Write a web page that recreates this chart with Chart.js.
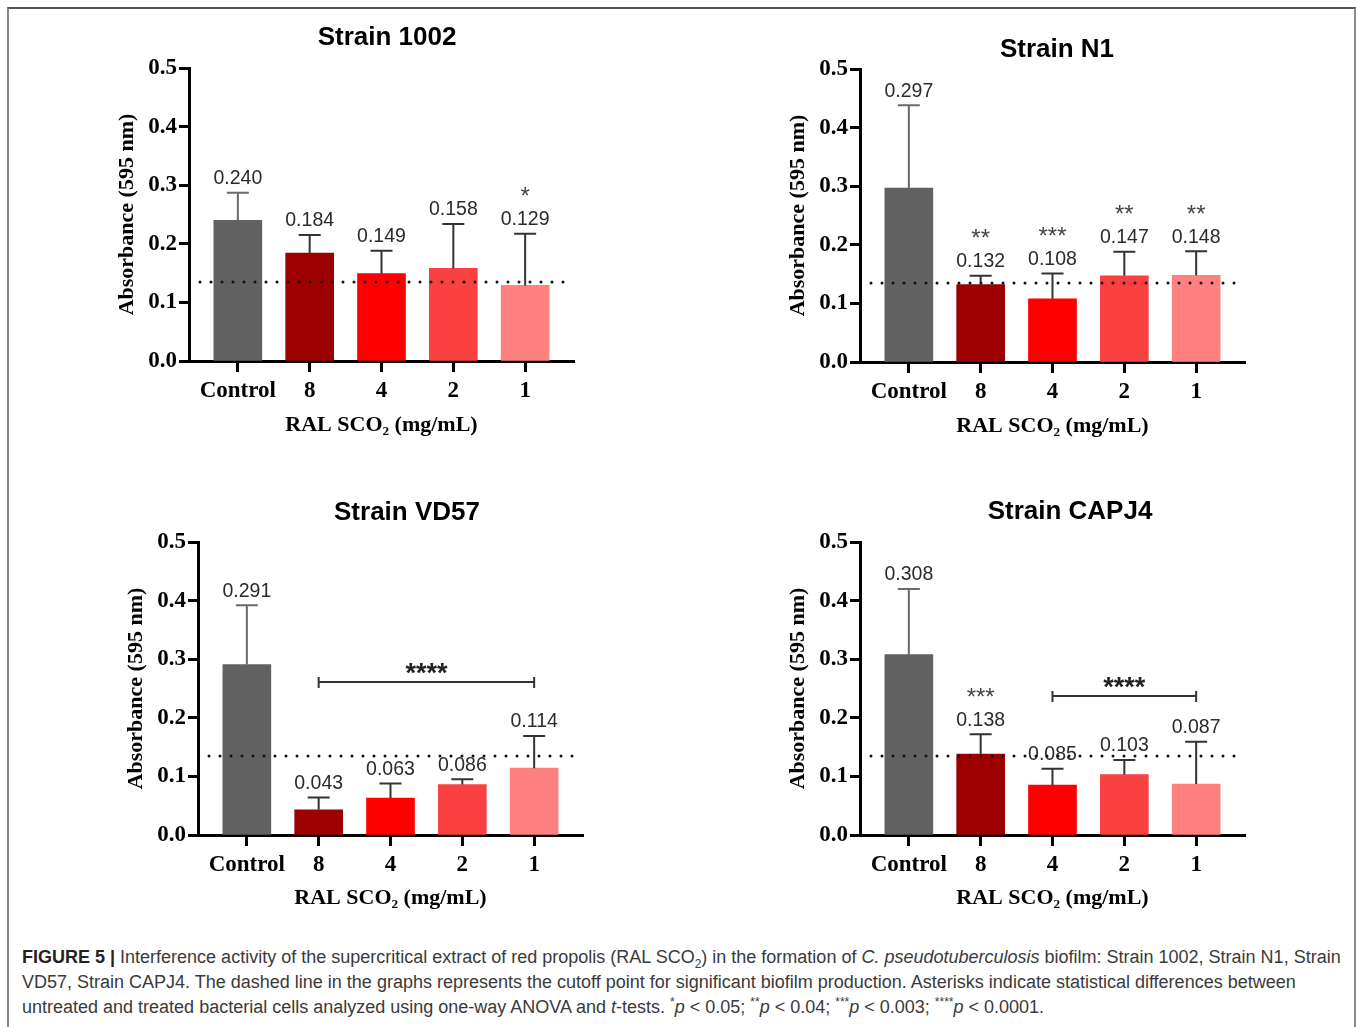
<!DOCTYPE html>
<html>
<head>
<meta charset="utf-8">
<script src="https://cdn.jsdelivr.net/npm/chart.js@4.4.1/dist/chart.umd.min.js"></script>
<style>
  html, body { margin: 0; padding: 0; background: #fff; }
  body { width: 1357px; height: 1027px; position: relative; overflow: hidden; }
  #frame {
    position: absolute; left: 7px; top: 7px; width: 1345px; height: 1040px;
    border-top: 2px solid #555; border-left: 2px solid #8a8a8a; border-right: 2px solid #8a8a8a;
  }
  .panel { position: absolute; }
  #caption {
    position: absolute; left: 22px; top: 945px;
    font-family: "Liberation Sans", Arial, sans-serif; font-size: 18px; line-height: 25px;
    color: #3a3a3a; white-space: nowrap;
  }
  #caption b { color: #222; }
  #caption sub, #caption sup { font-size: 12px; line-height: 0; }
</style>
</head>
<body>
<div id="frame"></div>
<canvas id="c1002" class="panel" width="505" height="433" style="left:89px; top:8px;"></canvas>
<canvas id="cN1" class="panel" width="505" height="433" style="left:760px; top:9px;"></canvas>
<canvas id="cVD57" class="panel" width="505" height="433" style="left:98px; top:482px;"></canvas>
<canvas id="cCAPJ4" class="panel" width="505" height="433" style="left:760px; top:482px;"></canvas>

<div id="caption"><b>FIGURE 5 |</b> Interference activity of the supercritical extract of red propolis (RAL SCO<sub>2</sub>) in the formation of <i>C. pseudotuberculosis</i> biofilm: Strain 1002, Strain N1, Strain<br>VD57, Strain CAPJ4. The dashed line in the graphs represents the cutoff point for significant biofilm production. Asterisks indicate statistical differences between<br>untreated and treated bacterial cells analyzed using one-way ANOVA and <i>t</i>-tests. <sup>*</sup><i>p</i> &lt; 0.05; <sup>**</sup><i>p</i> &lt; 0.04; <sup>***</sup><i>p</i> &lt; 0.003; <sup>****</sup><i>p</i> &lt; 0.0001.</div>

<script>
// ---- data ----
const categories = ["Control", "8", "4", "2", "1"];
const barColors = ["#616161", "#9c0000", "#ff0000", "#f94141", "#ff8080"];
const yTicks = [0, 0.1, 0.2, 0.3, 0.4, 0.5];
const cutoff = 0.135;

const means1002 = [0.240, 0.184, 0.149, 0.158, 0.129];
const sd1002 = [0.047, 0.031, 0.039, 0.076, 0.088];
const stars1002 = ["", "", "", "", "*"];

const meansN1 = [0.297, 0.132, 0.108, 0.147, 0.148];
const sdN1 = [0.141, 0.015, 0.043, 0.041, 0.041];
const starsN1 = ["", "**", "***", "**", "**"];

const meansVD57 = [0.291, 0.043, 0.063, 0.086, 0.114];
const sdVD57 = [0.101, 0.021, 0.025, 0.009, 0.055];
const starsVD57 = ["", "", "", "", ""];
const bracketVD57 = { from: 1, to: 4, y: 0.261, text: "****" };

const meansCAPJ4 = [0.308, 0.138, 0.085, 0.103, 0.087];
const sdCAPJ4 = [0.112, 0.034, 0.028, 0.025, 0.072];
const starsCAPJ4 = ["", "***", "", "", ""];
const bracketCAPJ4 = { from: 2, to: 4, y: 0.237, text: "****" };

// ---- panels (layout only) ----
const panels = [
  { id: "c1002", title: "Strain 1002", means: means1002, sd: sd1002, stars: stars1002, bracket: null, titleX: 298, titleY: 30, xTitlePad: 2 },
  { id: "cN1", title: "Strain N1", means: meansN1, sd: sdN1, stars: starsN1, bracket: null, titleX: 297, titleY: 41, xTitlePad: 2 },
  { id: "cVD57", title: "Strain VD57", means: meansVD57, sd: sdVD57, stars: starsVD57, bracket: bracketVD57, titleX: 309, titleY: 31, xTitlePad: 3 },
  { id: "cCAPJ4", title: "Strain CAPJ4", means: meansCAPJ4, sd: sdCAPJ4, stars: starsCAPJ4, bracket: bracketCAPJ4, titleX: 310, titleY: 30, xTitlePad: 3 }
];

const serifFamily = "'Liberation Serif', 'Times New Roman', serif";

// =========================
// OVERLAY: cutoff, error bars, labels, stars
// =========================
const overlayPlugin = {
  id: "overlay",
  afterDatasetsDraw(chart, args, opts) {
    const ctx = chart.ctx;
    const xs = chart.scales.x, ys = chart.scales.y;
    const area = chart.chartArea;
    ctx.save();

    // error bars + value labels
    opts.means.forEach((m, i) => {
      const px = xs.getPixelForValue(i);
      const base = ys.getPixelForValue(m);
      const top = ys.getPixelForValue(m + opts.sd[i]);
      ctx.strokeStyle = i === 0 ? "#6a6a6a" : "#333";
      ctx.lineWidth = 2;
      ctx.beginPath();
      ctx.moveTo(px, base);
      ctx.lineTo(px, top);
      ctx.moveTo(px - 11, top);
      ctx.lineTo(px + 11, top);
      ctx.stroke();

      ctx.fillStyle = "#2b2b2b";
      ctx.textAlign = "center";
      ctx.textBaseline = "middle";
      ctx.font = "19.5px 'Liberation Sans', Arial, sans-serif";
      ctx.fillText(m.toFixed(3), px, top - 14);
      if (opts.stars[i]) {
        ctx.fillStyle = "#444";
        ctx.font = "24px 'Liberation Sans', Arial, sans-serif";
        ctx.fillText(opts.stars[i], px, top - 36);
      }
    });

    // cutoff dotted line
    const cy = ys.getPixelForValue(cutoff);
    ctx.beginPath();
    ctx.setLineDash([0, 11]);
    ctx.lineCap = "round";
    ctx.lineWidth = 3;
    ctx.strokeStyle = "#111";
    ctx.moveTo(area.left + 11, cy);
    ctx.lineTo(area.right - 5, cy);
    ctx.stroke();
    ctx.setLineDash([]);
    ctx.lineCap = "butt";

    // significance bracket
    const b = opts.bracket;
    if (b) {
      const x1 = xs.getPixelForValue(b.from);
      const x2 = xs.getPixelForValue(b.to);
      const by = ys.getPixelForValue(b.y);
      ctx.strokeStyle = "#333";
      ctx.lineWidth = 2;
      ctx.beginPath();
      ctx.moveTo(x1, by); ctx.lineTo(x2, by);
      ctx.moveTo(x1, by - 5); ctx.lineTo(x1, by + 6);
      ctx.moveTo(x2, by - 5); ctx.lineTo(x2, by + 6);
      ctx.stroke();
      ctx.fillStyle = "#222";
      ctx.font = "bold 27px 'Liberation Sans', Arial, sans-serif";
      ctx.textAlign = "center";
      ctx.textBaseline = "middle";
      ctx.fillText(b.text, (x1 + x2) / 2, by - 8);
    }

    // panel title
    ctx.fillStyle = "#000";
    ctx.font = "bold 26px 'Liberation Sans', Arial, sans-serif";
    ctx.textAlign = "center";
    ctx.textBaseline = "middle";
    ctx.fillText(opts.title, opts.titleX, opts.titleY);

    ctx.restore();
  }
};

// =========================
// BUILD CHARTS
// =========================
panels.forEach(p => {
  const ctx = document.getElementById(p.id).getContext("2d");
  new Chart(ctx, {
    type: "bar",
    data: {
      datasets: [{
        data: p.means.map((m, i) => ({ x: i, y: m })),
        backgroundColor: barColors,
        borderWidth: 0,
        barThickness: 48
      }]
    },
    plugins: [overlayPlugin],
    options: {
      responsive: false,
      animation: false,
      layout: { padding: { top: 60, right: 20, bottom: 0, left: 0 } },
      plugins: {
        legend: { display: false },
        tooltip: { enabled: false },
        overlay: p
      },
      scales: {
        x: {
          type: "linear",
          min: -0.68,
          max: 4.68,
          offset: false,
          z: 1,
          afterFit: s => { s.height = 80; },
          afterBuildTicks: s => { s.ticks = categories.map((c, i) => ({ value: i })); },
          ticks: {
            callback: v => categories[v],
            font: { family: serifFamily, size: 23, weight: "bold" },
            color: "#000",
            padding: 5,
            autoSkip: false,
            maxRotation: 0
          },
          grid: { offset: false, drawOnChartArea: false, tickLength: 11, tickColor: "#000", tickWidth: 3 },
          border: { color: "#000", width: 3 },
          title: {
            display: true,
            text: "RAL SCO₂ (mg/mL)",
            font: { family: serifFamily, size: 22, weight: "bold" },
            color: "#000",
            padding: { top: 0, bottom: p.xTitlePad }
          }
        },
        y: {
          min: 0,
          max: 0.5,
          z: 1,
          afterFit: s => { s.width = 100; },
          afterBuildTicks: s => { s.ticks = yTicks.map(v => ({ value: v })); },
          ticks: {
            callback: v => v.toFixed(1),
            font: { family: serifFamily, size: 23, weight: "bold" },
            color: "#000",
            padding: 2
          },
          grid: { drawOnChartArea: false, tickLength: 10, tickColor: "#000", tickWidth: 3 },
          border: { color: "#000", width: 3 },
          title: {
            display: true,
            text: "Absorbance (595 nm)",
            font: { family: serifFamily, size: 22, weight: "bold" },
            color: "#000",
            padding: { top: 25, bottom: 0 }
          }
        }
      }
    }
  });
});
</script>
</body>
</html>
